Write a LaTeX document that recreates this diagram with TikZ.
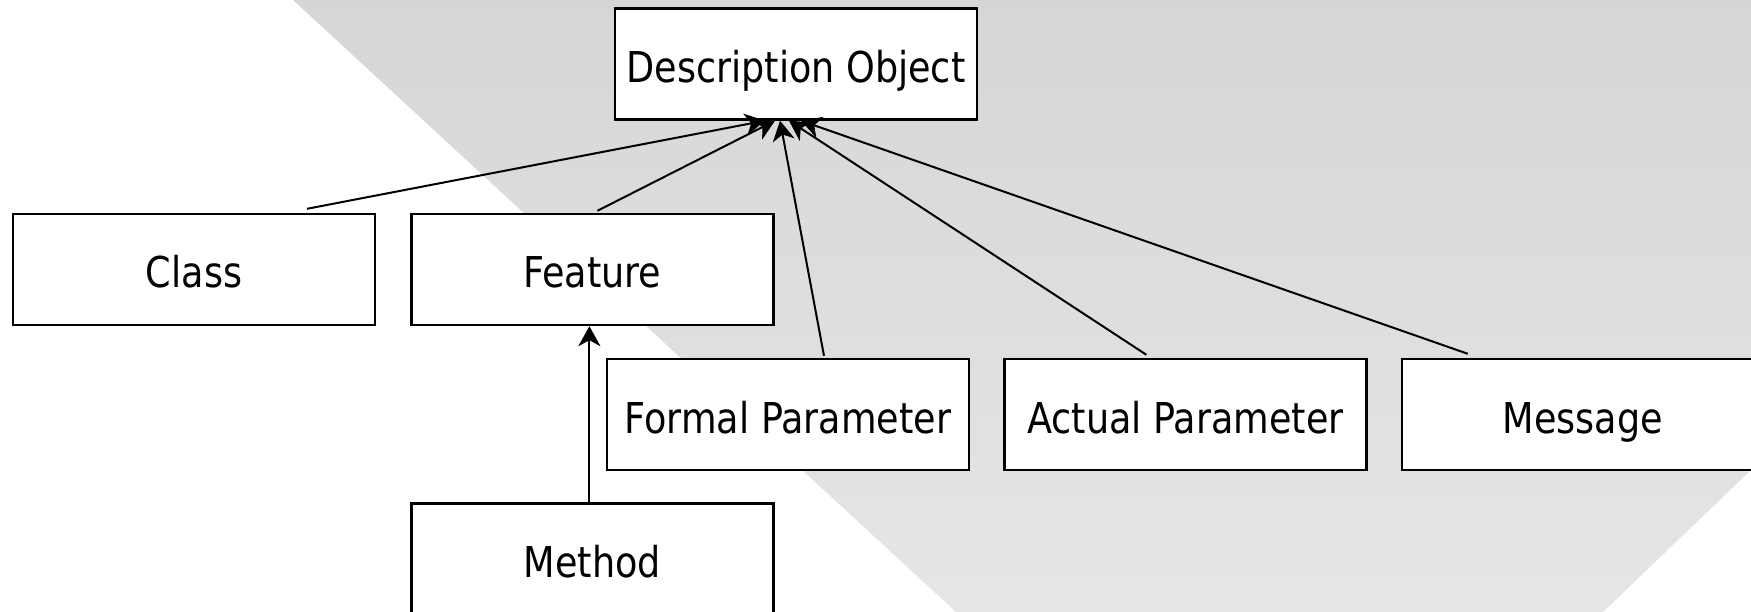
\documentclass[tikz,border=0pt]{standalone}
\usepackage{fontspec}
\setmainfont{DejaVu Sans}[FakeStretch=0.86]
\usetikzlibrary{arrows.meta,positioning}

\begin{document}
\begin{tikzpicture}[x=1pt,y=1pt,
	box/.style={draw,fill=white,line width=2.4pt,minimum width=362pt,minimum height=111pt,inner sep=0pt,text height=40pt,text depth=3pt,font=\fontsize{42.5}{50}\selectfont},
	gen/.style={-{Stealth[length=20pt,width=22pt,inset=6pt]},line width=2pt}]
\useasboundingbox (0,0) rectangle (1751,-612);
%background
\shade[top color=black!16,bottom color=black!10] (293,0) -- (1751,0) -- (1751,-470) -- (1603,-612) -- (956,-612) -- cycle;

\node[box] (desc) at (796,-64) {Description Object};
\node[box] (class) at (194,-269.5) {Class};
\node[box,right=34pt of class] (feature) {Feature};
\node[box] (formal) at (788,-414.5) {Formal Parameter};
\node[box,right=33pt of formal] (actual) {Actual Parameter};
\node[box,right=33pt of actual] (message) {Message};
\node[box,below=176pt of feature] (method) {Method};

%\path[->,line width=2pt]
\path[gen]
([xshift=113pt,yshift=4pt]class.north) edge ([xshift=-31pt]desc.south)
([xshift=5pt,yshift=2pt]feature.north) edge ([xshift=-21pt]desc.south)
([xshift=36pt,yshift=2pt]formal.north) edge ([xshift=-16pt]desc.south)
([xshift=-39pt,yshift=3pt]actual.north) edge ([xshift=-7pt]desc.south)
([xshift=-115pt,yshift=4pt]message.north) edge ([xshift=5pt]desc.south)
([xshift=-3pt]method.north) edge ([xshift=-3pt]feature.south)
;
\end{tikzpicture}
\end{document}
